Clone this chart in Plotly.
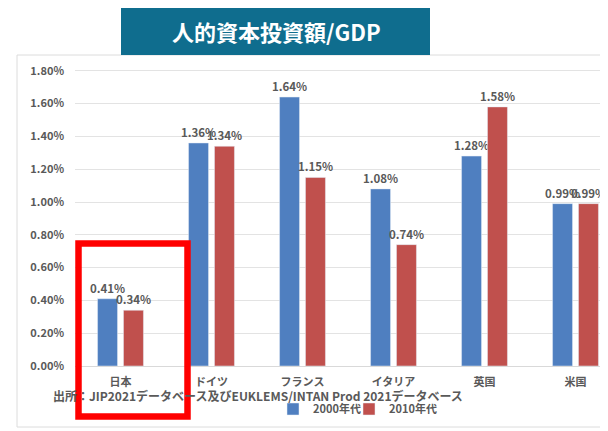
import plotly.graph_objects as go

categories = ["日本", "ドイツ", "フランス", "イタリア", "英国", "米国"]
series_2000 = [0.0041, 0.0136, 0.0164, 0.0108, 0.0128, 0.0099]
series_2010 = [0.0034, 0.0134, 0.0115, 0.0074, 0.0158, 0.0099]
series_names = ["2000年代", "2010年代"]
y_ticks = [0.0, 0.002, 0.004, 0.006, 0.008, 0.010, 0.012, 0.014, 0.016, 0.018]
title_text = "人的資本投資額/GDP"
source_text = "出所：JIP2021データベース及びEUKLEMS/INTAN Prod 2021データベース"

OFF = 8  # page body margin
W, H = 608 - OFF, 431 - OFF
L, R, T, B = 75 - OFF, 0, 63 - OFF, 431 - 366
PW, PH = W - L - R, H - T - B

def px(x):
    return (x - OFF - L) / PW

def py(y):
    return (H - B - (y - OFF)) / PH

FONT = "Noto Sans CJK JP"
GRAY = "#595959"

fig = go.Figure()
for vals, name, color, lg in [(series_2000, series_names[0], "#4f7fc0", "legend"),
                              (series_2010, series_names[1], "#c0504d", "legend2")]:
    fig.add_trace(go.Bar(
        x=list(range(len(categories))), y=vals, name=name,
        marker=dict(color=color), legend=lg,
        texttemplate="%{y:.2%}", textposition="outside", cliponaxis=False,
        constraintext="none",
        textfont=dict(family=FONT, size=11.5, color=GRAY, weight="bold"),
    ))

legend_common = dict(orientation="h", yanchor="middle", xanchor="left",
                     font=dict(size=11, color=GRAY, weight="bold"), itemwidth=30,
                     bgcolor="rgba(0,0,0,0)")

fig.update_layout(
    width=W, height=H,
    margin=dict(l=L, r=R, t=T, b=B),
    paper_bgcolor="white", plot_bgcolor="white",
    barmode="group", bargap=0.43, bargroupgap=0.23,
    font=dict(family=FONT, color=GRAY),
    showlegend=True,
    legend=dict(x=px(273), y=py(409), **legend_common),
    legend2=dict(x=px(349), y=py(409), **legend_common),
    xaxis=dict(
        tickmode="array", tickvals=list(range(len(categories))), ticktext=categories,
        range=[-0.5, -0.5 + PW / 91.0],
        showgrid=False, showline=True, linecolor="#d9d9d9", linewidth=1,
        ticks="", ticklabelstandoff=6,
        tickfont=dict(size=11, color=GRAY, weight="bold"),
    ),
    yaxis=dict(
        range=[0, (H - B - T) / 164.0 / 100.0],
        tickvals=y_ticks, tickformat=".2%",
        showgrid=True, gridcolor="#e3e3e3", gridwidth=1,
        zeroline=False, showline=False, ticks="",
        ticklabelstandoff=10,
        tickfont=dict(size=11, color=GRAY, weight="bold"),
    ),
)

shapes = [
    dict(type="rect", xref="paper", yref="paper",
         x0=px(17), x1=px(620), y0=py(427), y1=py(55),
         line=dict(color="#dcdcdc", width=1), fillcolor="rgba(0,0,0,0)", layer="below"),
    dict(type="rect", xref="paper", yref="paper",
         x0=px(121), x1=px(430), y0=py(55), y1=py(8),
         line=dict(width=0), fillcolor="#0f6d8e", layer="above"),
    dict(type="rect", xref="paper", yref="paper",
         x0=px(78.5), x1=px(187.5), y0=py(416.5), y1=py(243.5),
         line=dict(color="#ff0000", width=6.5), fillcolor="rgba(0,0,0,0)", layer="above"),
]
fig.update_layout(shapes=shapes)

fig.add_annotation(text=f"<b>{title_text}</b>", xref="paper", yref="paper",
                   x=px(276), y=py(31.5), xanchor="center", yanchor="middle",
                   showarrow=False, font=dict(family=FONT, size=22, color="white"))
fig.add_annotation(text=source_text, xref="paper", yref="paper",
                   x=px(258), y=py(395), xanchor="center", yanchor="middle",
                   showarrow=False, font=dict(family=FONT, size=12, color=GRAY, weight="bold"))

fig.write_html("out.html")
